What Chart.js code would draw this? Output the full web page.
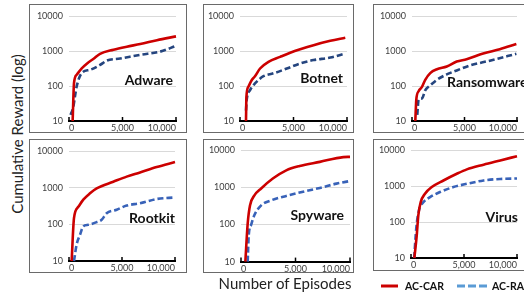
<!DOCTYPE html>
<html><head><meta charset="utf-8">
<script src="https://cdn.jsdelivr.net/npm/chart.js@4.4.1/dist/chart.umd.min.js"></script>
<style>
html,body{margin:0;padding:0;background:#fff;}
#wrap{position:relative;width:524px;height:295px;overflow:hidden;font-family:Lato,'Open Sans',sans-serif;color:#1a1a1a;}
.box{position:absolute;box-sizing:border-box;border:1.5px solid #6a6a6a;}
canvas{position:absolute;}
.ptitle{position:absolute;font-weight:bold;font-size:14px;line-height:18px;white-space:nowrap;color:#111;}
.axt{position:absolute;font-size:15px;line-height:18px;white-space:nowrap;color:#222;}
.leg{position:absolute;font-weight:bold;font-size:10.5px;line-height:14px;white-space:nowrap;color:#111;}
svg{position:absolute;}
</style></head><body>
<div id="wrap"></div>
<script>
// ---- data ----
const episodeTicks = [0, 5000, 10000];
const rewardTicks = [10, 100, 1000, 10000];
const seriesNames = ['AC-CAR', 'AC-RA'];
const panelNames = ['Adware', 'Botnet', 'Ransomware', 'Rootkit', 'Spyware', 'Virus'];

const adwareCarX = [340, 470, 720, 1190, 1720, 2300, 2900, 4160, 5400, 6660, 8220, 10000];
const adwareCarY = [10, 122, 210, 320, 450, 600, 830, 1090, 1330, 1580, 2040, 2620];
const adwareRaX = [150, 400, 560, 720, 1190, 1970, 2900, 3530, 4780, 6660, 8530, 10000];
const adwareRaY = [15, 25, 51, 98, 234, 290, 400, 530, 610, 780, 960, 1410];

const botnetCarX = [560, 600, 780, 1090, 1400, 1875, 2660, 3750, 4690, 5625, 6875, 8440, 9840];
const botnetCarY = [10, 49, 95, 146, 190, 316, 490, 680, 890, 1120, 1470, 1950, 2400];
const botnetRaX = [560, 625, 940, 1400, 2190, 3125, 4375, 5625, 6875, 8440, 9840];
const botnetRaY = [20, 40, 76, 118, 190, 230, 316, 440, 550, 650, 850];

const ransomCarX = [315, 410, 630, 950, 1260, 1735, 2370, 3310, 4260, 5200, 6780, 8360, 9940];
const ransomCarY = [10, 41, 71, 94, 150, 234, 302, 360, 500, 580, 850, 1120, 1580];
const ransomRaX = [500, 630, 950, 1260, 1735, 2370, 3310, 4260, 5520, 7410, 9940];
const ransomRaY = [15, 41, 44, 75, 104, 150, 214, 278, 385, 530, 830];

const rootkitCarX = [250, 470, 880, 1350, 1980, 2610, 4180, 5440, 6700, 8270, 10000];
const rootkitCarY = [10, 148, 300, 470, 700, 960, 1450, 2000, 2600, 3650, 5000];
const rootkitRaX = [470, 720, 1040, 1350, 1820, 2610, 3080, 3550, 4500, 5440, 6700, 8270, 10000];
const rootkitRaY = [10, 28, 52, 88, 97, 115, 133, 200, 250, 325, 375, 490, 540];

const spywareCarX = [400, 615, 830, 1230, 1850, 2920, 4150, 5380, 7230, 9380, 10000];
const spywareCarY = [10, 107, 330, 610, 940, 1740, 2900, 3800, 4900, 6600, 6700];
const spywareRaX = [615, 710, 920, 1230, 1850, 2770, 4150, 5380, 7230, 8770, 10000];
const spywareRaY = [10, 52, 97, 180, 330, 450, 590, 730, 970, 1270, 1490];

const virusCarX = [315, 540, 690, 915, 1320, 1960, 3060, 4320, 5270, 6850, 8420, 10000];
const virusCarY = [10, 42, 155, 360, 620, 950, 1450, 2230, 2960, 4000, 5250, 6900];
const virusRaX = [300, 440, 540, 790, 1170, 1800, 2740, 4000, 5270, 6850, 8420, 10000];
const virusRaY = [10, 42, 90, 236, 360, 500, 690, 950, 1170, 1450, 1600, 1650];

const carSeries = [[adwareCarX, adwareCarY], [botnetCarX, botnetCarY], [ransomCarX, ransomCarY],
                   [rootkitCarX, rootkitCarY], [spywareCarX, spywareCarY], [virusCarX, virusCarY]];
const raSeries = [[adwareRaX, adwareRaY], [botnetRaX, botnetRaY], [ransomRaX, ransomRaY],
                  [rootkitRaX, rootkitRaY], [spywareRaX, spywareRaY], [virusRaX, virusRaY]];

// ---- layout (page pixels) ----
const layout = [
  {box:[29,4,187,133],  area:[69,16,176,121],  title:{right:173, cy:80}},
  {box:[203,4,354,133], area:[240,16,347,121], title:{right:343, cy:78}},
  {box:[373,4,545,133], area:[412,16,517,121], title:{left:447, cy:82}},
  {box:[29,139,187,273],  area:[69,151,175,261],  title:{right:175, cy:218}},
  {box:[203,139,354,273], area:[241,150,350,262], title:{right:344, cy:215}},
  {box:[373,139,545,271], area:[411,150,517,258], title:{right:518, cy:217}}
];
const RED = '#cc0000';
const BLUE_TOP = '#25457f';
const BLUE_BOT = '#3862b8';
const FONT = 'Lato, "Open Sans", sans-serif';

const wrap = document.getElementById('wrap');

const upTicks = {
  id: 'upTicks',
  afterDraw(chart) {
    const s = chart.scales.x, ctx = chart.ctx;
    ctx.save();
    ctx.strokeStyle = '#000';
    ctx.lineWidth = 1.5;
    s.ticks.forEach(t => {
      const px = s.getPixelForValue(t.value);
      ctx.beginPath();
      ctx.moveTo(px, s.top);
      ctx.lineTo(px, s.top - 4);
      ctx.stroke();
    });
    ctx.restore();
  }
};

function pts(pair) { return pair[0].map((x, i) => ({x: x, y: pair[1][i]})); }

layout.forEach((L, i) => {
  const [bl, bt, br, bb] = L.box;
  const [al, at, ar, ab] = L.area;
  const w = br - bl, h = bb - bt;
  const box = document.createElement('div');
  box.className = 'box';
  Object.assign(box.style, {left: bl + 'px', top: bt + 'px', width: w + 'px', height: h + 'px'});
  wrap.appendChild(box);
  const cv = document.createElement('canvas');
  cv.width = w; cv.height = h;
  Object.assign(cv.style, {left: bl + 'px', top: bt + 'px', width: w + 'px', height: h + 'px'});
  wrap.appendChild(cv);

  const yW = al - bl, padTop = at - bt, padRight = br - ar, xH = bb - ab;
  const blue = i < 3 ? BLUE_TOP : BLUE_BOT;

  new Chart(cv, {
    type: 'line',
    data: {
      datasets: [
        {label: seriesNames[0], data: pts(carSeries[i]), borderColor: RED, borderWidth: 2.6,
         pointRadius: 0, cubicInterpolationMode: 'monotone', clip: 4, fill: false},
        {label: seriesNames[1], data: pts(raSeries[i]), borderColor: blue, borderWidth: 2.6,
         borderDash: [6, 3], pointRadius: 0, cubicInterpolationMode: 'monotone', clip: 4, fill: false}
      ]
    },
    options: {
      responsive: false,
      animation: false,
      devicePixelRatio: 1,
      layout: {padding: {left: 0, top: padTop, right: padRight, bottom: 0}},
      plugins: {legend: {display: false}, tooltip: {enabled: false}, title: {display: false}},
      scales: {
        x: {
          type: 'linear', min: 0, max: 10000,
          afterBuildTicks: s => { s.ticks = episodeTicks.map(v => ({value: v})); },
          afterFit: s => { s.height = xH; },
          ticks: {align: 'inner', maxRotation: 0, padding: 2, color: '#404040',
                  font: {family: FONT, size: 9}, callback: v => Number(v).toLocaleString('en-US')},
          grid: {display: false, drawTicks: false},
          border: {display: true, color: '#000', width: 2}
        },
        y: {
          type: 'logarithmic', min: 10, max: 10000,
          afterBuildTicks: s => { s.ticks = rewardTicks.map(v => ({value: v})); },
          afterFit: s => { s.width = yW; },
          ticks: {padding: 6, color: '#404040', font: {family: FONT, size: 9},
                  callback: v => String(v)},
          grid: {drawTicks: false, lineWidth: 1,
                 color: c => (c.tick && c.tick.value === 10) ? 'rgba(0,0,0,0)' : '#d9d9d9'},
          border: {display: false}
        }
      }
    },
    plugins: [upTicks]
  });

  const t = document.createElement('div');
  t.className = 'ptitle';
  t.textContent = panelNames[i];
  t.style.top = (L.title.cy - 9) + 'px';
  if (L.title.right !== undefined) t.style.right = (524 - L.title.right) + 'px';
  else t.style.left = L.title.left + 'px';
  wrap.appendChild(t);
});

// axis titles
const yt = document.createElement('div');
yt.className = 'axt';
yt.textContent = 'Cumulative Reward (log)';
Object.assign(yt.style, {left: '17px', top: '134px', transform: 'translate(-50%,-50%) rotate(-90deg)'});
wrap.appendChild(yt);

const xt = document.createElement('div');
xt.className = 'axt';
xt.textContent = 'Number of Episodes';
Object.assign(xt.style, {left: '285px', top: '283px', transform: 'translate(-50%,-50%)'});
wrap.appendChild(xt);

// legend
const NS = 'http://www.w3.org/2000/svg';
const svg = document.createElementNS(NS, 'svg');
svg.setAttribute('width', '524'); svg.setAttribute('height', '20');
svg.style.left = '0px'; svg.style.top = '276px';
function seg(x1, x2, color, dash) {
  const l = document.createElementNS(NS, 'line');
  l.setAttribute('x1', x1); l.setAttribute('x2', x2);
  l.setAttribute('y1', 10); l.setAttribute('y2', 10);
  l.setAttribute('stroke', color); l.setAttribute('stroke-width', 3);
  if (dash) l.setAttribute('stroke-dasharray', dash);
  svg.appendChild(l);
}
seg(381, 398, RED, null);
seg(457, 488, '#5b9bd5', '8 3');
wrap.appendChild(svg);

[[seriesNames[0], 405], [seriesNames[1], 492]].forEach(([txt, x]) => {
  const d = document.createElement('div');
  d.className = 'leg';
  d.textContent = txt;
  Object.assign(d.style, {left: x + 'px', top: '279px'});
  wrap.appendChild(d);
});
</script>
</body></html>
